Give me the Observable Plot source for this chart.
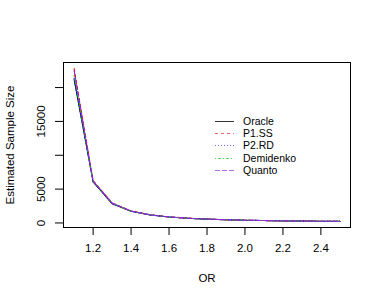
<!DOCTYPE html>
<html>
<head>
<meta charset="utf-8">
<script src="https://cdn.jsdelivr.net/npm/d3@7"></script>
<script src="https://cdn.jsdelivr.net/npm/@observablehq/plot@0.6"></script>
<style>
  html, body { margin: 0; padding: 0; background: #fff; }
  #wrap { position: relative; width: 382px; height: 306px; }
  #legend { position: absolute; left: 0; top: 0; }
  text { font-family: "Liberation Sans", Arial, sans-serif; }
</style>
</head>
<body>
<div id="wrap"></div>
<script>
const OR = [1.1, 1.2, 1.3, 1.4, 1.5, 1.6, 1.7, 1.8, 1.9, 2.0, 2.1, 2.2, 2.3, 2.4, 2.5];
const oracle    = [21200, 6050, 2850, 1720, 1180, 880, 690, 560, 470, 405, 355, 315, 280, 255, 232];
const p1ss      = [22800, 6250, 2950, 1770, 1210, 900, 705, 570, 478, 410, 358, 318, 283, 257, 234];
const p2rd      = [21400, 6100, 2880, 1740, 1190, 885, 695, 563, 472, 407, 356, 316, 281, 256, 233];
const demidenko = [21800, 6150, 2900, 1750, 1195, 890, 698, 565, 474, 408, 357, 317, 282, 256, 233];
const quanto    = [22500, 6200, 2930, 1760, 1205, 895, 702, 568, 476, 409, 358, 318, 282, 256, 233];
const seriesNames = ["Oracle", "P1.SS", "P2.RD", "Demidenko", "Quanto"];
const xTicks = [1.2, 1.4, 1.6, 1.8, 2.0, 2.2, 2.4];
const yTicks = [0, 5000, 10000, 15000, 20000];
const yLabels = [0, 5000, 15000];

const seriesValues = [oracle, p1ss, p2rd, demidenko, quanto];
const colors = ["#000000", "#ff0000", "#0000ff", "#00cc00", "#a020f0"];
const legendColors = ["#333333", "#f26b6b", "#6b6bf2", "#4fdc4f", "#b366f2"];
const dashes = [null, "3,3", "1,2", "1,2,3,2", "5,2"];

const series = seriesNames.map((name, i) => ({
  name, color: colors[i], lcolor: legendColors[i], dash: dashes[i],
  data: OR.map((x, j) => ({x, y: seriesValues[i][j]}))
}));

const allY = seriesValues.flat();
const yMin = d3.min(allY), yMax = d3.max(allY);
const xMin = d3.min(OR), xMax = d3.max(OR);
const yPad = (yMax - yMin) * 0.04, xPad = (xMax - xMin) * 0.04;

const font = '"Liberation Sans", Arial, sans-serif';

const chart = Plot.plot({
  width: 382,
  height: 306,
  marginLeft: 63,
  marginRight: 32,
  marginTop: 62,
  marginBottom: 79,
  style: {fontFamily: font, fontSize: "11.5px", background: "#fff", color: "#000"},
  x: {domain: [xMin - xPad, xMax + xPad]},
  y: {domain: [yMin - yPad, yMax + yPad]},
  marks: [
    Plot.frame({stroke: "#000", strokeWidth: 1}),
    Plot.axisX(xTicks, {tickSize: 8, tickPadding: 8, tickFormat: d3.format(".1f"), fontSize: 11.5, label: null, stroke: "#000"}),
    Plot.text(["OR"], {frameAnchor: "bottom", dy: 54, fontSize: 11.5, fill: "#000"}),
    Plot.axisY(yTicks, {tickSize: 8, tickFormat: () => "", label: null, stroke: "#000"}),
    Plot.text(yLabels, {y: d => d, text: d => String(d), frameAnchor: "left", dx: -22, rotate: -90, textAnchor: "middle", fontSize: 11.5, fill: "#000"}),
    Plot.text(["Estimated Sample Size"], {frameAnchor: "left", dx: -53, rotate: -90, textAnchor: "middle", fontSize: 11.5, fill: "#000"}),
    ...series.map(s => Plot.line(s.data, {x: "x", y: "y", stroke: s.color, strokeWidth: 1.1, strokeDasharray: s.dash}))
  ]
});
document.getElementById("wrap").appendChild(chart);

// legend overlay
const lg = d3.select("#wrap").append("svg")
  .attr("id", "legend").attr("width", 382).attr("height", 306);
const rows = lg.selectAll("g").data(series).join("g")
  .attr("transform", (d, i) => `translate(215, ${Math.round(121 + i * 12.2) + 0.5})`);
rows.append("line").attr("x1", 0).attr("x2", 19).attr("y1", 0).attr("y2", 0)
  .attr("stroke", d => d.lcolor).attr("stroke-width", 1)
  .attr("stroke-dasharray", d => d.dash);
rows.append("text").attr("x", 28).attr("y", 0).attr("dy", "0.35em")
  .attr("font-size", 10.5).attr("fill", "#000").text(d => d.name);
</script>
</body>
</html>
